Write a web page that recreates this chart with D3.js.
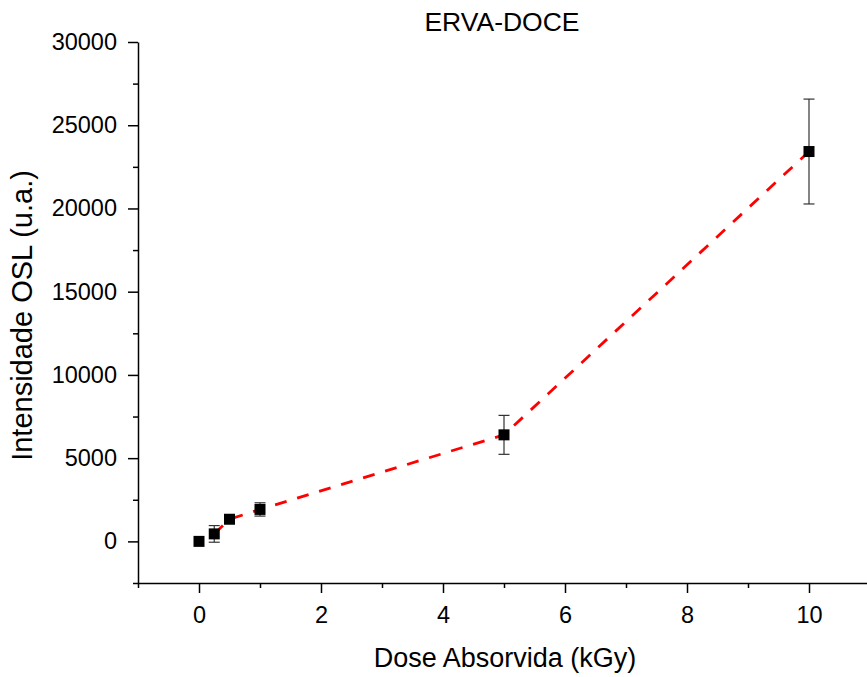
<!DOCTYPE html>
<html>
<head>
<meta charset="utf-8">
<script src="https://cdn.jsdelivr.net/npm/d3@7"></script>
<style>
  body { margin: 0; background: #fff; }
  text { font-family: "Liberation Sans", Arial, sans-serif; fill: #000; }
</style>
</head>
<body>
<div id="chart"></div>
<script>
// data
const doses = [0, 0.25, 0.5, 1, 5, 10];
const intensity = [0, 450, 1330, 1920, 6400, 23420];
const errors = [0, 500, 0, 400, 1170, 3150];
const xTicks = [0, 2, 4, 6, 8, 10];
const yTicks = [0, 5000, 10000, 15000, 20000, 25000, 30000];

const width = 867, height = 677;
const svg = d3.select("#chart").append("svg")
    .attr("width", width)
    .attr("height", height);

// scales
const x = d3.scaleLinear().domain([-1, 11]).range([138, 870]);
const y = d3.scaleLinear().domain([-2500, 30000]).range([583, 42]);

// minor ticks first
const xMinor = d3.range(-1, 12, 2);
const yMinor = d3.range(-2500, 30000, 5000);

svg.append("g")
    .attr("transform", `translate(0, ${y(-2500)})`)
    .call(d3.axisBottom(x).tickValues(xMinor).tickSize(5).tickFormat(""))
    .call(g => g.select(".domain").remove())
    .selectAll("line").attr("stroke-width", 1.5);

svg.append("g")
    .attr("transform", `translate(${x(-1)}, 0)`)
    .call(d3.axisLeft(y).tickValues(yMinor).tickSize(5).tickFormat(""))
    .call(g => g.select(".domain").remove())
    .selectAll("line").attr("stroke-width", 1.5);

// x axis
const xAxis = svg.append("g")
    .attr("transform", `translate(0, ${y(-2500)})`)
    .call(d3.axisBottom(x).tickValues(xTicks).tickSize(10).tickPadding(13)
        .tickSizeOuter(0).tickFormat(d3.format("d")));
xAxis.select(".domain").attr("stroke-width", 1.5);
xAxis.selectAll(".tick line").attr("stroke-width", 1.5);
xAxis.selectAll(".tick text")
    .style("font-size", "23.5px")
    .style("font-family", "Liberation Sans, Arial, sans-serif");

// y axis
const yAxis = svg.append("g")
    .attr("transform", `translate(${x(-1)}, 0)`)
    .call(d3.axisLeft(y).tickValues(yTicks).tickSize(10).tickPadding(11)
        .tickSizeOuter(0).tickFormat(d3.format("d")));
yAxis.select(".domain").attr("stroke-width", 1.5);
yAxis.selectAll(".tick line").attr("stroke-width", 1.5);
yAxis.selectAll(".tick text")
    .style("font-size", "23.5px")
    .style("font-family", "Liberation Sans, Arial, sans-serif");

// dashed red line (starts from the second point)
const line = d3.line()
    .x(d => x(d[0]))
    .y(d => y(d[1]));

const linePts = doses.map((d, i) => [d, intensity[i]]).slice(1);
svg.append("path")
    .datum(linePts)
    .attr("d", line)
    .attr("fill", "none")
    .attr("stroke", "#ff0000")
    .attr("stroke-width", 2.8)
    .attr("stroke-dasharray", "12,11");

// error bars
const bars = svg.append("g").attr("stroke", "#333").attr("stroke-width", 1.2);
doses.forEach((d, i) => {
    if (!errors[i]) return;
    const cx = x(d);
    const y1 = y(intensity[i] + errors[i]);
    const y2 = y(intensity[i] - errors[i]);
    bars.append("line").attr("x1", cx).attr("x2", cx).attr("y1", y1).attr("y2", y2);
    bars.append("line").attr("x1", cx - 5.5).attr("x2", cx + 5.5).attr("y1", y1).attr("y2", y1);
    bars.append("line").attr("x1", cx - 5.5).attr("x2", cx + 5.5).attr("y1", y2).attr("y2", y2);
});

// square markers
svg.selectAll(".dot")
    .data(doses)
    .enter().append("rect")
    .attr("class", "dot")
    .attr("x", d => x(d) - 5.5)
    .attr("y", (d, i) => y(intensity[i]) - 5.5)
    .attr("width", 11)
    .attr("height", 11)
    .attr("fill", "#000");

// title
svg.append("text")
    .attr("text-anchor", "middle")
    .attr("x", 502)
    .attr("y", 31)
    .style("font-size", "26.5px")
    .text("ERVA-DOCE");

// x axis label
svg.append("text")
    .attr("text-anchor", "middle")
    .attr("x", 505)
    .attr("y", 667)
    .style("font-size", "27px")
    .text("Dose Absorvida (kGy)");

// y axis label
svg.append("text")
    .attr("text-anchor", "middle")
    .attr("transform", "translate(32, 315.5) rotate(-90)")
    .style("font-size", "29px")
    .text("Intensidade OSL (u.a.)");
</script>
</body>
</html>
